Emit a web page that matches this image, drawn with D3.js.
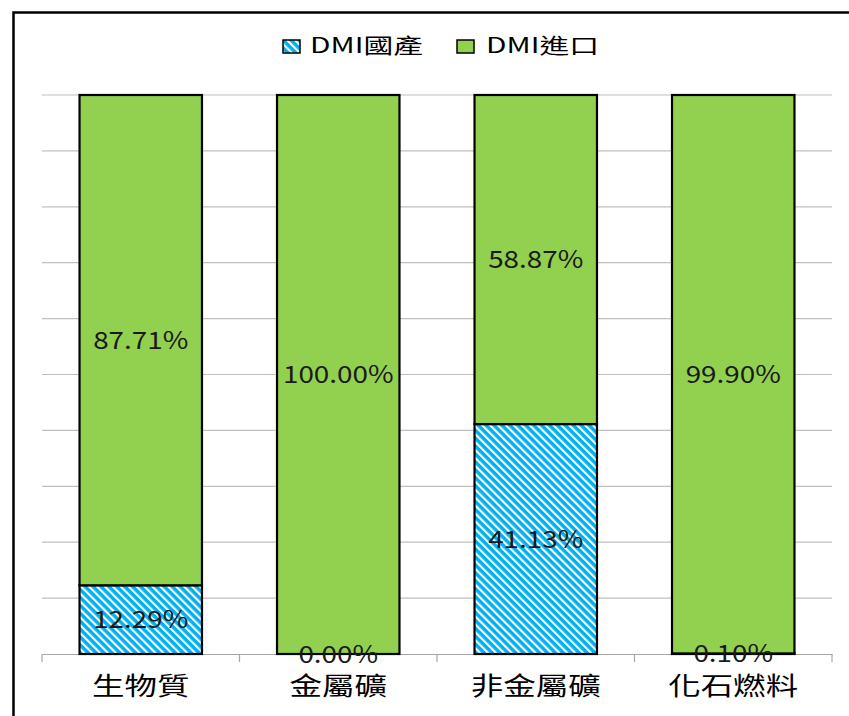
<!DOCTYPE html>
<html><head><meta charset="utf-8">
<script src="https://cdn.jsdelivr.net/npm/d3@7"></script>
<style>body{margin:0;background:#fff;}svg{display:block;}</style>
</head><body>
<svg id="c" width="849" height="716"></svg>
<script>
const categories = ["生物質", "金屬礦", "非金屬礦", "化石燃料"];
const domestic = [12.29, 0.00, 41.13, 0.10];
const imported = [87.71, 100.00, 58.87, 99.90];
const seriesNames = ["DMI國產", "DMI進口"];
const yTicks = [0,10,20,30,40,50,60,70,80,90,100];

const svg = d3.select("#c");
const font = "'Noto Sans CJK TC', 'DejaVu Sans', sans-serif";
const defs = svg.append("defs");
const pat = defs.append("pattern").attr("id","hatch").attr("patternUnits","userSpaceOnUse")
  .attr("width",5.6).attr("height",5.6).attr("patternTransform","rotate(-45)");
pat.append("rect").attr("width",5.6).attr("height",5.6).attr("fill","#00B0F0");
pat.append("rect").attr("width",2.1).attr("height",5.6).attr("fill","#fff");

// outer border
svg.append("rect").attr("x",13.5).attr("y",12.5).attr("width",900).attr("height",800)
  .attr("fill","none").attr("stroke","#000").attr("stroke-width",2.5);

const x = d3.scaleBand().domain(categories).range([42,832]).paddingInner(0.38).paddingOuter(0.19);
const xb = d3.scaleBand().domain(categories).range([42,832]);
const y = d3.scaleLinear().domain([0,100]).range([654,95]);

// gridlines
svg.append("g").selectAll("line").data(yTicks.filter(d=>d>0)).join("line")
  .attr("x1",42).attr("x2",832).attr("y1",d=>y(d)).attr("y2",d=>y(d))
  .attr("stroke","#BFBFBF").attr("stroke-width",1.2);

// axis
const ax = svg.append("g").attr("transform",`translate(0,${y(0)})`)
  .call(d3.axisBottom(xb).tickSize(0).tickFormat(""));
ax.select(".domain").attr("stroke","#A6A6A6").attr("stroke-width",1.2);
svg.append("g").selectAll("line").data(d3.range(categories.length+1)).join("line")
  .attr("x1",i=>42+i*xb.step()).attr("x2",i=>42+i*xb.step())
  .attr("y1",y(0)).attr("y2",y(0)+8).attr("stroke","#A6A6A6").attr("stroke-width",1.2);

const stacks = categories.map((c,i)=>({c, d:domestic[i], m:imported[i]}));
// bars
const g = svg.append("g");
g.selectAll(".dom").data(stacks).join("rect")
  .attr("x",d=>x(d.c)).attr("width",x.bandwidth())
  .attr("y",d=>y(d.d)).attr("height",d=>y(0)-y(d.d))
  .attr("fill","url(#hatch)").attr("stroke","#000").attr("stroke-width",2.2);
g.selectAll(".imp").data(stacks).join("rect")
  .attr("x",d=>x(d.c)).attr("width",x.bandwidth())
  .attr("y",d=>y(d.d+d.m)).attr("height",d=>y(d.d)-y(d.d+d.m))
  .attr("fill","#92D050").attr("stroke","#000").attr("stroke-width",2.2);

// labels
const numSx = 1.16, catSx = 1.3, legSx = 1.42;
const lab = svg.append("g").attr("font-family",font).attr("font-size",24).attr("text-anchor","middle").attr("fill","#1a1a1a");
lab.selectAll(".ld").data(stacks).join("text")
  .attr("transform",d=>`translate(${x(d.c)+x.bandwidth()/2},${(y(0)+y(d.d))/2}) scale(${numSx},1)`)
  .attr("dy","0.36em")
  .text(d=>d.d.toFixed(2)+"%");
lab.selectAll(".lm").data(stacks).join("text")
  .attr("transform",d=>`translate(${x(d.c)+x.bandwidth()/2},${(y(d.d)+y(d.d+d.m))/2}) scale(${numSx},1)`)
  .attr("dy","0.36em")
  .text(d=>d.m.toFixed(2)+"%");

// category labels
svg.append("g").selectAll("text").data(categories).join("text")
  .attr("transform",d=>`translate(${xb(d)+xb.bandwidth()/2},686) scale(${catSx},1)`)
  .attr("dy","0.36em")
  .attr("text-anchor","middle").attr("font-family",font).attr("font-size",25).attr("fill","#000")
  .text(d=>d);

// legend
const leg = svg.append("g").attr("font-family",font).attr("font-size",21).attr("fill","#000");
const lx = [283, 457];
const tx = [310, 486];
const fills = ["url(#hatch)", "#92D050"];
seriesNames.forEach((n,i)=>{
  leg.append("rect").attr("x",lx[i]).attr("y",40).attr("width",17).attr("height",13)
    .attr("fill",fills[i]).attr("stroke","#000").attr("stroke-width",1.5);
  leg.append("text").attr("transform",`translate(${tx[i]},45.5) scale(${legSx},1)`)
    .attr("dy","0.36em").text(n);
});
</script>
</body></html>
